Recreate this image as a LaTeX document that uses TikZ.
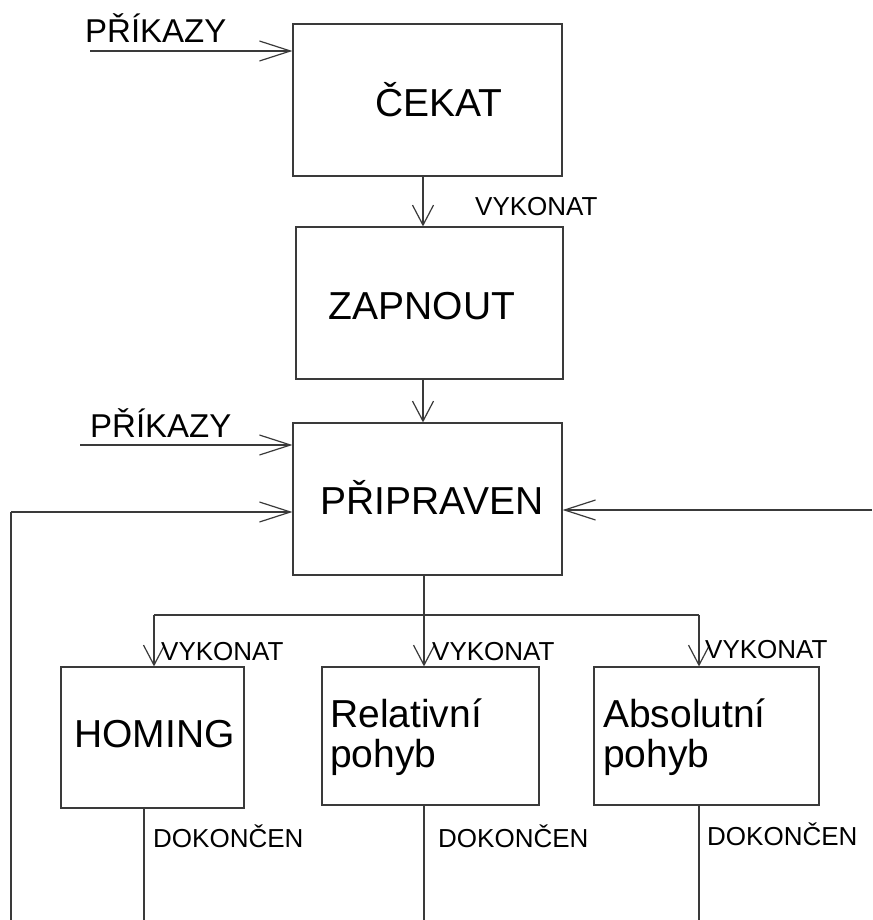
\documentclass[tikz,border=0pt]{standalone}
\usepackage{fontspec}
\setmainfont{Liberation Sans}
\usetikzlibrary{arrows.meta}
\definecolor{ln}{HTML}{3A3A3A}
\begin{document}
\begin{tikzpicture}[x=1pt,y=-1pt,
  box/.style={draw=ln,line width=1.2pt,rectangle,inner sep=0pt},
  wire/.style={draw=ln,line width=1.2pt},
  harrow/.style={wire,-{Straight Barb[length=31pt,width=20pt]}},
  varrow/.style={wire,-{Straight Barb[length=20pt,width=21pt]}},
  big/.style={inner sep=0pt,font=\fontsize{39}{40}\selectfont},
  cmd/.style={inner sep=0pt,anchor=base west,font=\fontsize{33}{34}\selectfont},
  lbl/.style={inner sep=0pt,anchor=base west,font=\fontsize{26}{27}\selectfont}]
\useasboundingbox[fill=white] (0,0) rectangle (872,920);
% boxes
\node[box,minimum width=269pt,minimum height=152pt] (cekat) at (427.5,100) {};
\node[box,minimum width=267pt,minimum height=152pt] (zapnout) at (429.5,303) {};
\node[box,minimum width=269pt,minimum height=152pt] (pripraven) at (427.5,499) {};
\node[box,minimum width=183pt,minimum height=141pt] (homing) at (152.5,737.5) {};
\node[box,minimum width=217pt,minimum height=138pt] (relativni) at (430.5,736) {};
\node[box,minimum width=225pt,minimum height=138pt] (absolutni) at (706.5,736) {};
% box texts
\node[big,anchor=base] (tcekat) at (439,117) {ČEKAT};
\node[big,anchor=base] (tzapnout) at (422,319) {ZAPNOUT};
\node[big,anchor=base] (tpripraven) at (432,514) {PŘIPRAVEN};
\node[big,anchor=base west] (thoming) at (74,747) {HOMING};
\node[big,anchor=base west] (trel1) at (330,727) {Relativní};
\node[big,anchor=base west] (trel2) at (330,767) {pohyb};
\node[big,anchor=base west] (tabs1) at (603,727) {Absolutní};
\node[big,anchor=base west] (tabs2) at (603,767) {pohyb};
% coordinates
\coordinate (p1) at (90,51);
\coordinate (p2) at (80,445);
\coordinate (xa) at (423,0);
\coordinate (xb) at (424,0);
\coordinate (lb) at (11,920);
\coordinate (lt) at (11,512);
\coordinate (rt) at (872,510);
\coordinate (bh) at (154,615);
\coordinate (ba) at (699,615);
\coordinate (dh) at (144,920);
\coordinate (dr) at (424,920);
\coordinate (da) at (699,920);
% connectors
\draw[harrow] (p1) -- (p1 -| cekat.west);
\draw[varrow] (cekat.south -| xa) -- (zapnout.north -| xa);
\draw[varrow] (zapnout.south -| xa) -- (pripraven.north -| xa);
\draw[harrow] (p2) -- (p2 -| pripraven.west);
\draw[wire] (lb) -- (lt);
\draw[harrow] (lt) -- (lt -| pripraven.west);
\draw[harrow] (rt) -- (rt -| pripraven.east);
\draw[varrow] (pripraven.south -| xb) -- (relativni.north -| xb);
\draw[wire] (bh) -- (ba);
\draw[varrow] (bh) -- (bh |- homing.north);
\draw[varrow] (ba) -- (ba |- absolutni.north);
\draw[wire] (homing.south -| dh) -- (dh);
\draw[wire] (relativni.south -| dr) -- (dr);
\draw[wire] (absolutni.south -| da) -- (da);
% labels
\node[cmd] (lp1) at (85,43) {PŘÍKAZY};
\node[cmd] (lp2) at (90,437) {PŘÍKAZY};
\node[lbl] (lv0) at (475,215) {VYKONAT};
\node[lbl] (lv1) at (161,660) {VYKONAT};
\node[lbl] (lv2) at (432,660) {VYKONAT};
\node[lbl] (lv3) at (705,658) {VYKONAT};
\node[lbl] (ld1) at (153,847) {DOKONČEN};
\node[lbl] (ld2) at (438,847) {DOKONČEN};
\node[lbl] (ld3) at (707,845) {DOKONČEN};
\end{tikzpicture}
\end{document}
